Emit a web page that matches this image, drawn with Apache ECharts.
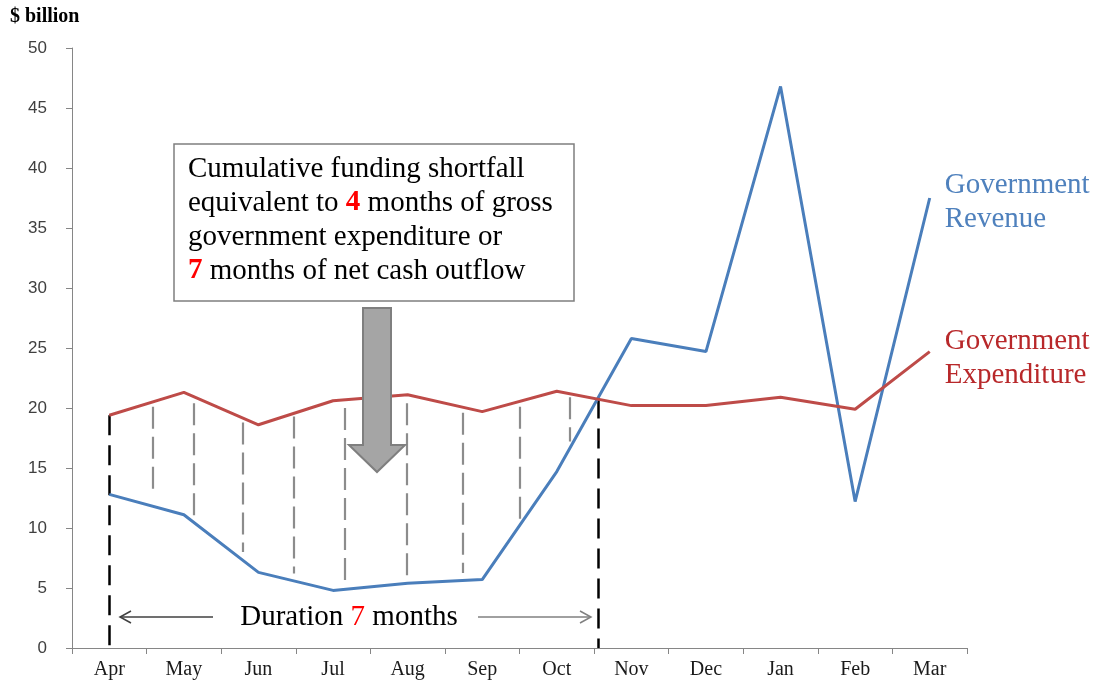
<!DOCTYPE html>
<html><head><meta charset="utf-8">
<script src="https://cdn.jsdelivr.net/npm/echarts@6/dist/echarts.min.js"></script>
<style>html,body{margin:0;padding:0;background:#fff}#c{width:1106px;height:684px}</style>
</head><body><div id="c"></div>
<script>
const months = ['Apr','May','Jun','Jul','Aug','Sep','Oct','Nov','Dec','Jan','Feb','Mar'];
const revenue = [12.8, 11.1, 6.3, 4.8, 5.4, 5.7, 14.7, 25.8, 24.7, 46.8, 12.2, 37.5];
const expenditure = [19.4, 21.3, 18.6, 20.6, 21.1, 19.7, 21.4, 20.2, 20.2, 20.9, 19.9, 24.7];
const yMin = 0, yMax = 50, yStep = 5;
// shortfall hatch lines: [month position (0 = Apr), top value, bottom value]
const hatchLines = [[0.58,20.1,12.8],[1.13,20.4,10.8],[1.79,18.8,8.0],[2.47,19.3,6.2],[3.16,20.0,5.4],[3.99,20.4,5.5],[4.74,19.6,6.25],[5.5,20.1,10.5],[6.18,20.9,17.2]];
// duration boundary lines: [month position, top value, bottom value]
const durationLines = [[0,19.4,0],[6.55,20.8,0]];

const serif = "'Liberation Serif', 'Times New Roman', serif";
const chart = echarts.init(document.getElementById('c'), null, {renderer:'canvas'});
const option = {
  animation: false,
  backgroundColor: '#fff',
  grid: {left: 72, right: 139, top: 48, bottom: 36, containLabel: false},
  xAxis: [{
    type: 'category', data: months, boundaryGap: true,
    axisLine: {onZero: false, lineStyle: {color: '#868686', width: 1}},
    axisTick: {show: true, length: 6, lineStyle: {color: '#868686'}},
    axisLabel: {color: '#1a1a1a', fontFamily: serif, fontSize: 20, margin: 12}
  }, {
    type: 'value', min: -0.5, max: 11.5, show: false
  }],
  yAxis: {
    type: 'value', min: yMin, max: yMax, interval: yStep,
    splitLine: {show: false},
    axisLine: {show: true, onZero: false, lineStyle: {color: '#868686', width: 1}},
    axisTick: {show: true, length: 6, lineStyle: {color: '#868686'}},
    axisLabel: {color: '#404040', fontFamily: "'Liberation Sans', Arial, sans-serif", fontSize: 17, margin: 25}
  },
  series: [
    {
      type: 'lines', coordinateSystem: 'cartesian2d', xAxisIndex: 1, yAxisIndex: 0, silent: true, z: 1,
      data: hatchLines.map(h => ({coords: [[h[0], h[1]], [h[0], h[2]]]})),
      lineStyle: {color: '#8c8c8c', width: 2.2, type: [22, 8], opacity: 1, curveness: 0}
    },
    {
      type: 'lines', coordinateSystem: 'cartesian2d', xAxisIndex: 1, yAxisIndex: 0, silent: true, z: 1,
      data: durationLines.map(h => ({coords: [[h[0], h[1]], [h[0], h[2]]]})),
      lineStyle: {color: '#000', width: 2.5, type: [20, 10], opacity: 1, curveness: 0}
    },
    {
      name: 'Government Revenue', type: 'line', data: revenue, symbol: 'none', z: 3,
      lineStyle: {color: '#4a7ebb', width: 3}, itemStyle: {color: '#4a7ebb'},
      endLabel: {show: true, formatter: 'Government\nRevenue', color: '#4f81bd', fontFamily: serif, fontSize: 29, lineHeight: 34, distance: 15, offset: [0, 4]}
    },
    {
      name: 'Government Expenditure', type: 'line', data: expenditure, symbol: 'none', z: 3,
      lineStyle: {color: '#be4b48', width: 3}, itemStyle: {color: '#be4b48'},
      endLabel: {show: true, formatter: 'Government\nExpenditure', color: '#b8282a', fontFamily: serif, fontSize: 29, lineHeight: 34, distance: 15, offset: [0, 7]}
    }
  ],
  graphic: [
    {type: 'text', left: 10, top: 7, style: {text: '$ billion', fill: '#000', font: "bold 20px 'Liberation Serif'"}},
    {type: 'rect', z: 10, shape: {x: 174, y: 144, width: 400, height: 157}, style: {fill: '#fff', stroke: '#7f7f7f', lineWidth: 1.5}},
    {type: 'text', z: 11, x: 188, y: 152, style: {
      text: 'Cumulative funding shortfall\nequivalent to {r|4} months of gross\ngovernment expenditure or\n{r|7} months of net cash outflow',
      fill: '#000', fontFamily: 'Liberation Serif', fontSize: 29, lineHeight: 34, verticalAlign: 'top', align: 'left',
      rich: {r: {fill: '#ff0000', fontWeight: 'bold', fontFamily: 'Liberation Serif', fontSize: 29, lineHeight: 34}}
    }},
    {type: 'polygon', z: 10, shape: {points: [[363,308],[391,308],[391,445],[405,445],[377,472],[349,445],[363,445]]}, style: {fill: '#a5a5a5', stroke: '#7f7f7f', lineWidth: 2}},
    {type: 'text', z: 11, x: 349, y: 617, style: {
      text: 'Duration {r|7} months', fill: '#000', fontFamily: 'Liberation Serif', fontSize: 29, align: 'center', verticalAlign: 'middle',
      rich: {r: {fill: '#ff0000', fontFamily: 'Liberation Serif', fontSize: 29}}
    }},
    {type: 'polyline', z: 11, shape: {points: [[120,617],[213,617]]}, style: {stroke: '#404040', lineWidth: 1.5}},
    {type: 'polyline', z: 11, shape: {points: [[131,611],[120,617],[131,623]]}, style: {stroke: '#404040', lineWidth: 1.5, fill: null}},
    {type: 'polyline', z: 11, shape: {points: [[478,617],[591,617]]}, style: {stroke: '#808080', lineWidth: 1.5}},
    {type: 'polyline', z: 11, shape: {points: [[580,611],[591,617],[580,623]]}, style: {stroke: '#808080', lineWidth: 1.5, fill: null}}
  ]
};
chart.setOption(option);
</script>
</body></html>
